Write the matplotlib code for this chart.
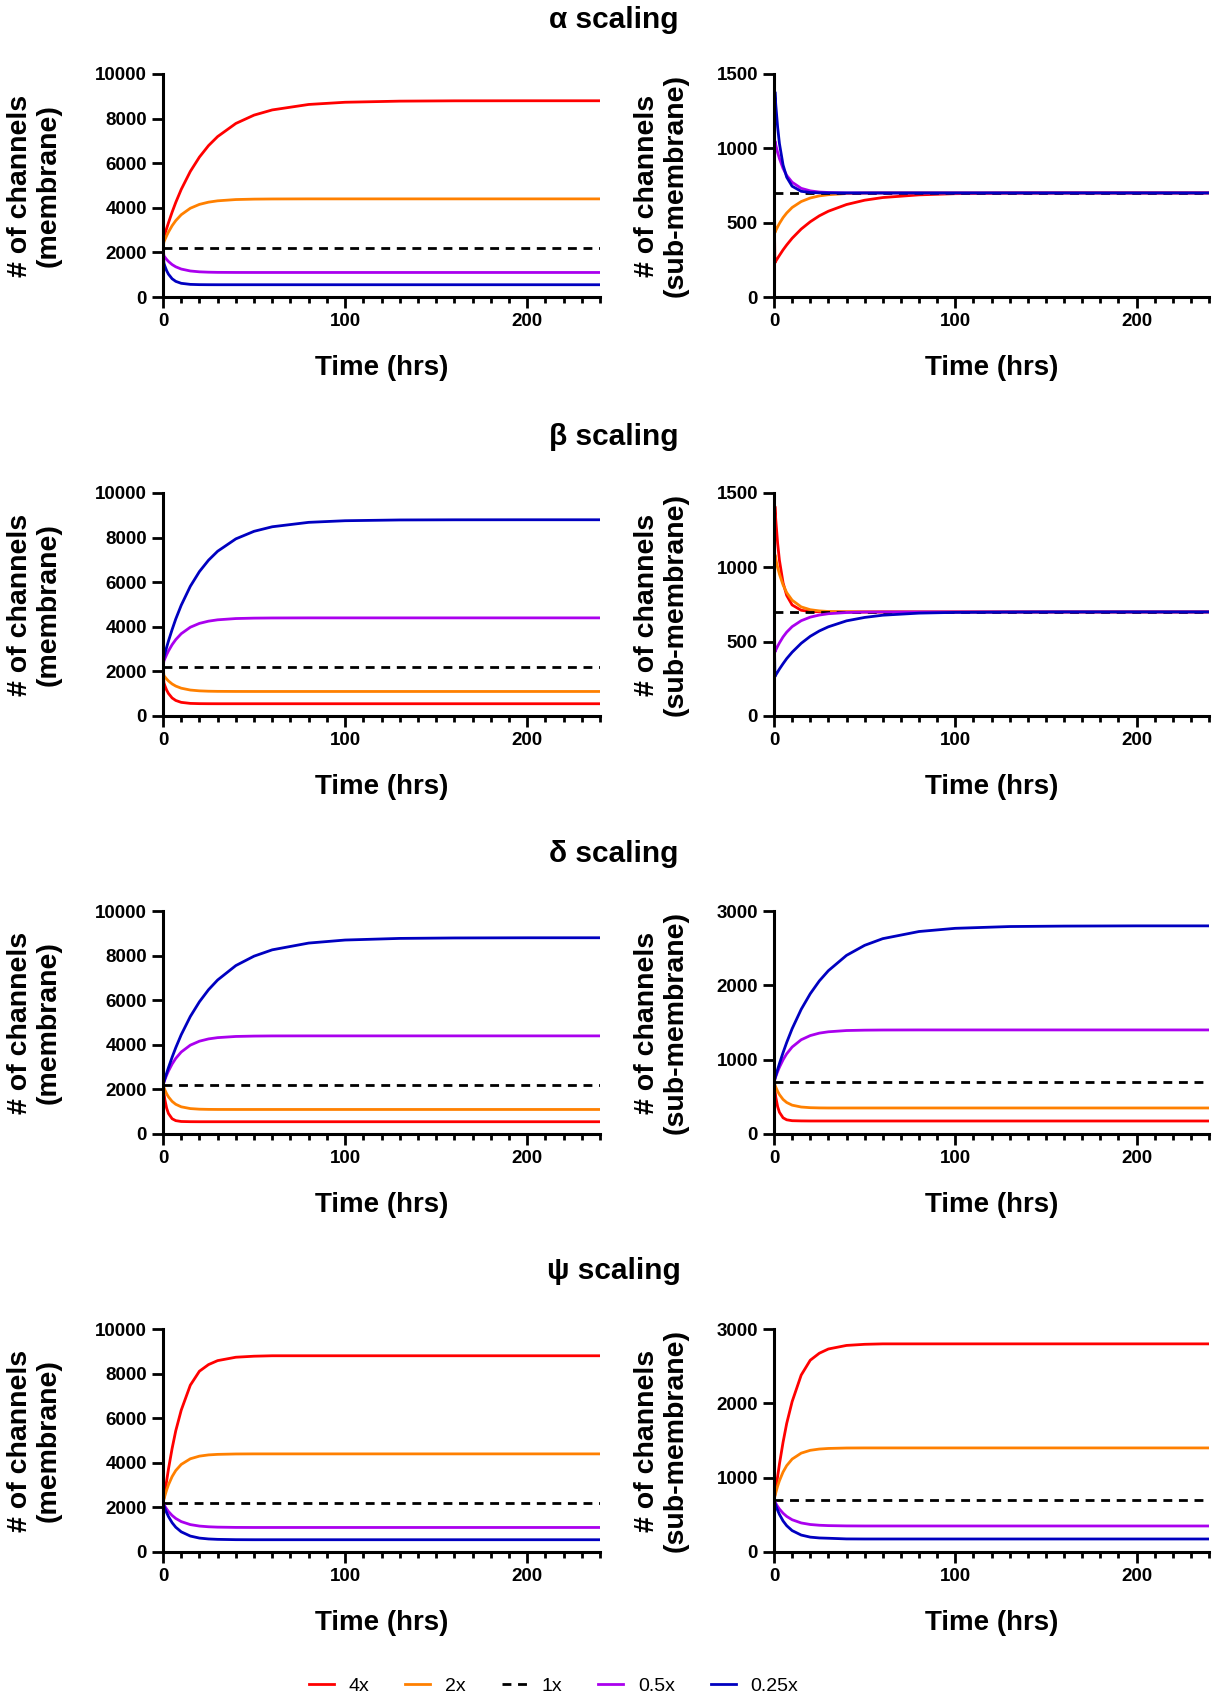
import matplotlib
matplotlib.use("Agg")
import matplotlib.pyplot as plt
from matplotlib.lines import Line2D
from matplotlib.ticker import MultipleLocator

plt.rcParams["font.family"] = ["Liberation Sans", "DejaVu Sans"]
plt.rcParams["font.weight"] = "bold"

TIME_HRS = [0, 0.5, 1, 2, 3, 5, 7, 10, 15, 20, 25, 30, 40, 50, 60, 80, 100, 130, 160, 200, 240]

SERIES_LABELS = ["4x", "2x", "1x", "0.5x", "0.25x"]
SERIES_COLORS = ["#ff0000", "#ff8000", "#000000", "#aa00ee", "#0000c0"]
ROW_TITLES = ["α scaling", "β scaling", "δ scaling", "ψ scaling"]

# baseline (1x) levels
MEM_1X = [2200, 2200, 2200, 2200, 2200, 2200, 2200, 2200, 2200, 2200, 2200,
          2200, 2200, 2200, 2200, 2200, 2200, 2200, 2200, 2200, 2200]
SUB_1X = [700, 700, 700, 700, 700, 700, 700, 700, 700, 700, 700,
          700, 700, 700, 700, 700, 700, 700, 700, 700, 700]

# alpha scaling
ALPHA_MEM_4X = [2200, 2670, 2811, 3075, 3326, 3804, 4239, 4822, 5631, 6274, 6789, 7194, 7782, 8156, 8389, 8634, 8733, 8783, 8797, 8800, 8800]
ALPHA_MEM_2X = [2200, 2467, 2566, 2749, 2913, 3196, 3424, 3689, 3980, 4153, 4253, 4313, 4370, 4389, 4396, 4400, 4400, 4400, 4400, 4400, 4400]
ALPHA_MEM_05X = [2200, 1850, 1790, 1684, 1594, 1454, 1354, 1254, 1167, 1129, 1113, 1105, 1101, 1100, 1100, 1100, 1100, 1100, 1100, 1100, 1100]
ALPHA_MEM_025X = [2200, 1520, 1391, 1181, 1024, 818, 701, 614, 566, 554, 551, 550, 550, 550, 550, 550, 550, 550, 550, 550, 550]
ALPHA_SUB_4X = [700, 230, 241, 261, 280, 317, 350, 395, 457, 506, 546, 577, 622, 651, 669, 687, 695, 699, 700, 700, 700]
ALPHA_SUB_2X = [700, 433, 447, 472, 495, 534, 565, 602, 642, 666, 680, 688, 696, 699, 700, 700, 700, 700, 700, 700, 700]
ALPHA_SUB_05X = [700, 1050, 1022, 973, 931, 865, 818, 772, 731, 714, 706, 703, 700, 700, 700, 700, 700, 700, 700, 700, 700]
ALPHA_SUB_025X = [700, 1380, 1290, 1143, 1032, 888, 806, 745, 711, 703, 701, 700, 700, 700, 700, 700, 700, 700, 700, 700, 700]

# beta scaling
BETA_MEM_4X = [2200, 1490, 1365, 1162, 1010, 809, 697, 612, 565, 554, 551, 550, 550, 550, 550, 550, 550, 550, 550, 550, 550]
BETA_MEM_2X = [2200, 1815, 1758, 1657, 1571, 1437, 1342, 1247, 1164, 1128, 1112, 1105, 1101, 1100, 1100, 1100, 1100, 1100, 1100, 1100, 1100]
BETA_MEM_05X = [2200, 2470, 2568, 2752, 2916, 3198, 3425, 3690, 3981, 4153, 4253, 4313, 4370, 4389, 4396, 4400, 4400, 4400, 4400, 4400, 4400]
BETA_MEM_025X = [2200, 2635, 2789, 3079, 3362, 3874, 4349, 4965, 5816, 6476, 6987, 7388, 7943, 8282, 8486, 8684, 8757, 8791, 8798, 8800, 8800]
BETA_SUB_4X = [700, 1410, 1316, 1162, 1047, 896, 811, 747, 711, 703, 701, 700, 700, 700, 700, 700, 700, 700, 700, 700, 700]
BETA_SUB_2X = [700, 1085, 1054, 1000, 954, 882, 830, 779, 734, 715, 707, 703, 701, 700, 700, 700, 700, 700, 700, 700, 700]
BETA_SUB_05X = [700, 430, 444, 469, 492, 532, 564, 601, 641, 665, 679, 688, 696, 699, 700, 700, 700, 700, 700, 700, 700]
BETA_SUB_025X = [700, 265, 276, 296, 316, 352, 386, 429, 489, 536, 572, 600, 640, 663, 678, 692, 697, 699, 700, 700, 700]

# delta scaling
DELTA_MEM_4X = [2200, 1835, 1551, 1157, 918, 685, 599, 561, 552, 550, 550, 550, 550, 550, 550, 550, 550, 550, 550, 550, 550]
DELTA_MEM_2X = [2200, 2085, 1981, 1805, 1664, 1462, 1332, 1219, 1140, 1113, 1104, 1101, 1100, 1100, 1100, 1100, 1100, 1100, 1100, 1100, 1100]
DELTA_MEM_05X = [2200, 2319, 2431, 2638, 2823, 3137, 3390, 3676, 3984, 4162, 4264, 4321, 4374, 4391, 4398, 4400, 4400, 4400, 4400, 4400, 4400]
DELTA_MEM_025X = [2200, 2336, 2469, 2728, 2976, 3441, 3870, 4451, 5269, 5929, 6470, 6906, 7553, 7975, 8259, 8562, 8698, 8771, 8791, 8799, 8800]
DELTA_SUB_4X = [700, 584, 494, 368, 292, 218, 191, 179, 176, 175, 175, 175, 175, 175, 175, 175, 175, 175, 175, 175, 175]
DELTA_SUB_2X = [700, 663, 630, 574, 530, 465, 424, 388, 363, 354, 351, 350, 350, 350, 350, 350, 350, 350, 350, 350, 350]
DELTA_SUB_05X = [700, 738, 774, 839, 898, 998, 1079, 1170, 1268, 1324, 1357, 1375, 1392, 1397, 1399, 1400, 1400, 1400, 1400, 1400, 1400]
DELTA_SUB_025X = [700, 743, 786, 868, 947, 1095, 1231, 1416, 1677, 1887, 2059, 2197, 2403, 2538, 2628, 2724, 2767, 2791, 2797, 2800, 2800]

# psi scaling
PSI_MEM_4X = [2200, 2431, 2662, 3190, 3718, 4642, 5434, 6358, 7480, 8107, 8404, 8582, 8734, 8780, 8800, 8800, 8800, 8800, 8800, 8800, 8800]
PSI_MEM_2X = [2200, 2363, 2512, 2783, 3014, 3381, 3652, 3927, 4180, 4299, 4354, 4378, 4396, 4400, 4400, 4400, 4400, 4400, 4400, 4400, 4400]
PSI_MEM_05X = [2200, 2124, 2054, 1926, 1816, 1639, 1505, 1364, 1229, 1163, 1131, 1115, 1103, 1100, 1100, 1100, 1100, 1100, 1100, 1100, 1100]
PSI_MEM_025X = [2200, 2078, 1966, 1763, 1590, 1314, 1111, 905, 715, 624, 585, 567, 553, 550, 550, 550, 550, 550, 550, 550, 550]
PSI_SUB_4X = [700, 774, 847, 1015, 1183, 1477, 1729, 2023, 2380, 2580, 2674, 2731, 2779, 2794, 2800, 2800, 2800, 2800, 2800, 2800, 2800]
PSI_SUB_2X = [700, 752, 799, 886, 959, 1076, 1162, 1250, 1330, 1368, 1385, 1393, 1399, 1400, 1400, 1400, 1400, 1400, 1400, 1400, 1400]
PSI_SUB_05X = [700, 676, 653, 613, 578, 522, 479, 434, 391, 370, 360, 355, 351, 350, 350, 350, 350, 350, 350, 350, 350]
PSI_SUB_025X = [700, 661, 625, 561, 506, 418, 354, 288, 228, 200, 189, 185, 176, 175, 175, 175, 175, 175, 175, 175, 175]

MEM_ROWS = [
    [ALPHA_MEM_4X, ALPHA_MEM_2X, MEM_1X, ALPHA_MEM_05X, ALPHA_MEM_025X],
    [BETA_MEM_4X, BETA_MEM_2X, MEM_1X, BETA_MEM_05X, BETA_MEM_025X],
    [DELTA_MEM_4X, DELTA_MEM_2X, MEM_1X, DELTA_MEM_05X, DELTA_MEM_025X],
    [PSI_MEM_4X, PSI_MEM_2X, MEM_1X, PSI_MEM_05X, PSI_MEM_025X],
]
SUB_ROWS = [
    [ALPHA_SUB_4X, ALPHA_SUB_2X, SUB_1X, ALPHA_SUB_05X, ALPHA_SUB_025X],
    [BETA_SUB_4X, BETA_SUB_2X, SUB_1X, BETA_SUB_05X, BETA_SUB_025X],
    [DELTA_SUB_4X, DELTA_SUB_2X, SUB_1X, DELTA_SUB_05X, DELTA_SUB_025X],
    [PSI_SUB_4X, PSI_SUB_2X, SUB_1X, PSI_SUB_05X, PSI_SUB_025X],
]
SUB_YMAX = [1500, 1500, 3000, 3000]
SUB_YSTEP = [500, 500, 1000, 1000]

W, H = 1221, 1704
LW = 2.0
DASH = (0, (3.2, 2.4))


def style_axis(ax, ymax, ystep, ylabel, label_x):
    ax.set_xlim(0, 240)
    ax.set_ylim(0, ymax)
    for side in ("top", "right"):
        ax.spines[side].set_visible(False)
    for side in ("left", "bottom"):
        ax.spines[side].set_linewidth(2.2)
    ax.xaxis.set_major_locator(MultipleLocator(100))
    ax.xaxis.set_minor_locator(MultipleLocator(10))
    ax.yaxis.set_major_locator(MultipleLocator(ystep))
    ax.tick_params(which="major", length=8, width=2.0, pad=3.5,
                   labelsize=13.5)
    ax.tick_params(which="minor", length=4.5, width=2.0)
    ax.set_xlabel("Time (hrs)", fontsize=20, fontweight="bold", va="center")
    ax.xaxis.set_label_coords(0.5, -0.318)
    ax.set_ylabel(ylabel, fontsize=20.5, fontweight="bold", va="center",
                  linespacing=1.15)
    ax.yaxis.set_label_coords(label_x, 0.5)


def draw_panel(ax, series):
    for vals, col, lab in zip(series, SERIES_COLORS, SERIES_LABELS):
        ls = DASH if lab == "1x" else "-"
        ax.plot(TIME_HRS, vals, color=col, lw=LW, linestyle=ls,
                solid_capstyle="butt")


fig = plt.figure(figsize=(W / 100, H / 100), dpi=100)

row_tops = [74, 493, 911, 1329]
row_h = 223
title_y = [20, 437, 854, 1271]

for r in range(4):
    bottom = 1 - (row_tops[r] + row_h) / H
    axl = fig.add_axes([163 / W, bottom, 437 / W, row_h / H])
    axr = fig.add_axes([774 / W, bottom, 435 / W, row_h / H])

    draw_panel(axl, MEM_ROWS[r])
    style_axis(axl, 10000, 2000, "# of channels\n(membrane)", -0.294)

    draw_panel(axr, SUB_ROWS[r])
    style_axis(axr, SUB_YMAX[r], SUB_YSTEP[r],
               "# of channels\n(sub-membrane)", -0.259)

    fig.text(614 / W, 1 - title_y[r] / H, ROW_TITLES[r], ha="center",
             va="center", fontsize=21.5, fontweight="bold")

handles = [Line2D([], [], color=c, lw=LW,
                  linestyle=DASH if l == "1x" else "-")
           for c, l in zip(SERIES_COLORS, SERIES_LABELS)]
fig.legend(handles, SERIES_LABELS, loc="center left",
           bbox_to_anchor=(291 / W, 1 - 1686 / H), ncol=5, frameon=False,
           prop={"size": 14, "weight": "normal"},
           handlelength=1.3, handletextpad=0.75, columnspacing=1.85)

fig.savefig("out.png", dpi=100)
